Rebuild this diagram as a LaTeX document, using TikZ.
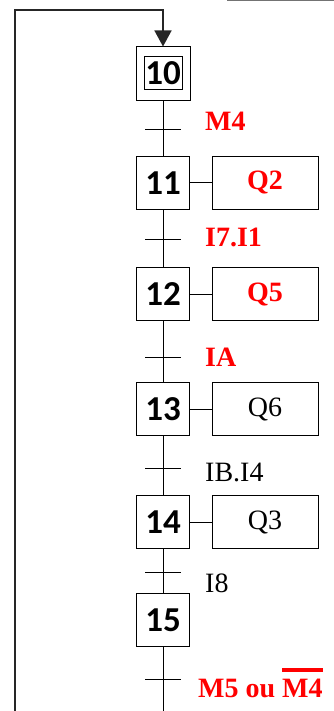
\documentclass[tikz,border=0pt]{standalone}
\usepackage{fontspec}
\setmainfont{Liberation Serif}
\newfontfamily\stepfont{Carlito}
\usetikzlibrary{arrows.meta}
\newcommand\negsig[1]{\setbox0\hbox{#1}\rlap{\rule[\dimexpr\ht0+7pt\relax]{\wd0}{3.5pt}}\box0}

\begin{document}
\begin{tikzpicture}[x=1pt,y=-1pt,
    stepbox/.style={draw,line width=1pt,minimum size=53pt,inner sep=0pt,
      font=\stepfont\bfseries\fontsize{35}{38}\selectfont},
    actbox/.style={draw,line width=1pt,minimum width=106pt,minimum height=53pt,inner sep=0pt,
      font=\fontsize{28}{30}\selectfont},
    cond/.style={anchor=base west,inner sep=0pt,font=\fontsize{28}{30}\selectfont},
    hot/.style={text=red,font=\bfseries\fontsize{28}{30}\selectfont},
    link/.style={line width=1pt}]
    \useasboundingbox (0,0) rectangle (334,711);
    \draw[black!55,line width=1pt] (227,0.5) -- (334,0.5);
    % steps
    \node[stepbox,minimum size=54pt] (s10) at (163,74) {};
    \node[stepbox,minimum width=38pt,minimum height=33pt] (n10) at (163,73.5) {10};
    \node[stepbox] (s11) at (163,183) {11};
    \node[stepbox] (s12) at (163,294) {12};
    \node[stepbox] (s13) at (163,409) {13};
    \node[stepbox] (s14) at (163,522) {14};
    \node[stepbox] (s15) at (163,620) {15};
    % actions
    \node[actbox,text=red,font=\bfseries\fontsize{28}{30}\selectfont] (a11) at (265,183) {Q2};
    \node[actbox,text=red,font=\bfseries\fontsize{28}{30}\selectfont] (a12) at (265,294) {Q5};
    \node[actbox] (a13) at (265,409) {Q6};
    \node[actbox] (a14) at (265,522) {Q3};
    % transitions
    \coordinate (t10) at (163,130);
    \coordinate (t11) at (163,239);
    \coordinate (t12) at (163,357);
    \coordinate (t13) at (163,468);
    \coordinate (t14) at (163,572);
    \coordinate (t15) at (163,679);
    \coordinate (bot) at (163,711);
    \coordinate (lb) at (15,711);
    \coordinate (lt) at (15,10);
    \node[cond,hot] (c10) at (205,131) {M4};
    \node[cond,hot] (c11) at (205,246) {I7.I1};
    \node[cond,hot] (c12) at (205,366) {IA};
    \node[cond] (c13) at (205,481) {IB.I4};
    \node[cond] (c14) at (205,592) {I8};
    \node[cond,hot] (c15) at (198,697) {M5 ou \negsig{M4}};
    % links
    \draw[link] (s10) -- (s11) -- (s12) -- (s13) -- (s14) -- (s15) -- (bot);
    \foreach \t in {t10,t11,t12,t13,t14,t15}
        \draw[link] ([xshift=-18pt]\t) -- ([xshift=18pt]\t);
    \draw[link] (s11) -- (a11);
    \draw[link] (s12) -- (a12);
    \draw[link] (s13) -- (a13);
    \draw[link] (s14) -- (a14);
    \draw[line width=1.5pt,black!85,-{Triangle[width=17pt,length=16pt]}] (lb) -- (lt) -| (s10);
\end{tikzpicture}
\end{document}
